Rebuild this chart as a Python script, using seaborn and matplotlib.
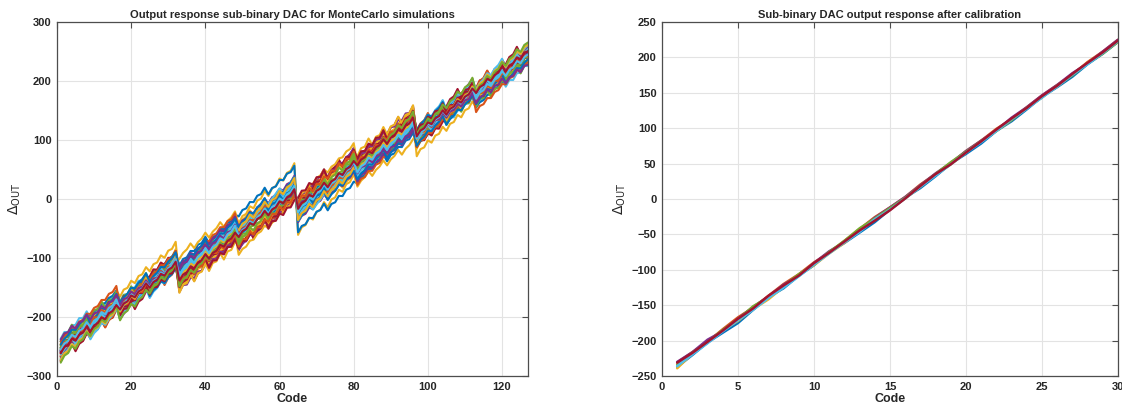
import numpy as np
import pandas as pd
import seaborn as sns
import matplotlib.pyplot as plt

# MATLAB default line colours
matlab_colors = ['#0072BD', '#D95319', '#EDB120', '#7E2F8E', '#77AC30', '#4DBEEE', '#A2142F']

# Monte Carlo runs: bit weights (LSB -> MSB) of the 7-bit sub-binary DAC
mc_weights = [
    [11.4, 13.0, 19.8, 35.8, 72.5, 130.7, 224.1],
    [10.3, 15.6, 23.2, 42.0, 64.1, 113.0, 247.9],
    [13.0, 16.5, 26.0, 47.0, 85.0, 146.0, 212.0],
    [8.8, 16.2, 22.4, 43.5, 61.2, 118.2, 259.0],
    [12.3, 14.6, 25.0, 32.5, 75.5, 107.9, 238.0],
    [9.7, 11.8, 20.2, 40.3, 57.7, 134.8, 227.9],
    [12.6, 17.2, 16.4, 46.3, 71.4, 119.4, 265.3],
    [10.8, 13.6, 24.2, 37.3, 83.0, 147.0, 203.0],
    [13.5, 14.2, 21.6, 30.2, 67.4, 102.9, 243.2],
    [12.0, 15.0, 23.0, 43.0, 82.0, 110.0, 210.0],
    [11.9, 16.6, 27.0, 36.5, 54.7, 116.1, 252.4],
    [10.5, 15.2, 20.8, 48.3, 76.8, 136.7, 232.2],
    [11.5, 11.4, 23.6, 33.5, 63.3, 111.5, 218.9],
    [13.9, 15.8, 19.2, 38.8, 80.1, 132.2, 249.8],
    [8.5, 12.2, 22.6, 42.5, 66.3, 122.1, 208.3],
    [12.4, 17.6, 17.4, 31.7, 72.0, 142.0, 240.5],
    [9.9, 14.0, 25.8, 44.8, 59.8, 107.0, 261.5],
    [11.2, 13.2, 21.0, 37.8, 79.3, 125.4, 230.2],
    [13.2, 14.8, 16.8, 39.5, 65.0, 117.0, 215.6],
    [10.6, 16.8, 24.6, 35.0, 70.1, 133.6, 254.7],
    [12.1, 11.6, 19.6, 45.5, 74.7, 114.2, 225.4],
    [9.6, 15.4, 22.0, 31.0, 62.0, 129.5, 245.3],
    [12.8, 13.8, 26.4, 41.5, 84.1, 121.1, 236.0],
    [10.1, 16.0, 18.2, 36.0, 56.0, 144.2, 210.6],
    [11.7, 12.6, 23.0, 44.0, 73.3, 109.8, 260.3],
    [13.3, 14.4, 20.4, 33.0, 68.2, 126.6, 220.9],
    [9.2, 17.0, 21.2, 38.3, 77.6, 137.9, 241.9],
    [11.0, 12.0, 27.6, 41.3, 63.6, 114.9, 251.3],
    [12.6, 15.0, 17.8, 29.5, 72.8, 132.9, 231.1],
    [10.3, 13.4, 23.8, 47.0, 59.0, 123.3, 206.8],
    [13.7, 16.4, 19.4, 37.0, 81.4, 105.8, 255.8],
    [10.8, 14.2, 22.2, 39.0, 69.3, 140.6, 217.6],
    [11.4, 11.2, 25.4, 34.5, 61.4, 120.2, 239.4],
    [9.0, 17.4, 19.0, 43.0, 76.3, 135.8, 226.4],
    [12.3, 13.0, 22.8, 32.7, 66.8, 112.0, 263.2],
    [9.7, 15.8, 24.8, 35.5, 70.6, 127.4, 209.5],
    [13.2, 12.4, 20.0, 42.3, 65.8, 109.1, 248.4],
    [11.5, 15.6, 21.8, 40.0, 82.2, 137.4, 237.4],
    [10.5, 12.8, 18.8, 33.7, 58.2, 119.0, 223.4],
    [11.9, 16.2, 23.4, 45.3, 71.7, 129.0, 257.0],
    [10.6, 14.6, 21.6, 38.6, 67.4, 125.1, 232.9],
    [9.9, 13.8, 20.6, 36.7, 73.6, 122.8, 244.1],
]
codes = np.arange(0, 127)

# Calibrated output, one series per run (code 1..30)
cal_codes = list(range(1, 31))
cal_runs = [
    [-237.0, -220.3, -202.6, -188.8, -175.1, -156.4, -138.7, -126.0, -108.2, -93.5, -74.8, -62.1, -47.4, -32.6, -14.9,
     1.8, 15.5, 32.2, 50.0, 63.7, 78.4, 96.1, 109.8, 126.6, 144.3, 158.0, 172.7, 190.4, 205.2, 221.9],
    [-231.0, -216.3, -201.6, -183.8, -167.1, -153.4, -136.7, -120.0, -106.2, -89.5, -75.8, -59.1, -42.4, -25.6, -11.9,
     2.8, 20.5, 35.2, 50.0, 67.7, 82.4, 99.1, 112.8, 129.6, 146.3, 161.0, 175.7, 193.4, 208.2, 224.9],
    [-239.0, -218.3, -200.6, -185.8, -172.1, -155.4, -141.7, -124.0, -107.2, -93.5, -76.8, -62.1, -44.4, -29.6, -13.9,
     0.8, 17.5, 34.2, 49.0, 65.7, 82.4, 96.1, 111.8, 128.6, 145.3, 159.0, 175.7, 192.4, 207.2, 221.9],
    [-230.0, -216.3, -198.6, -186.8, -169.1, -152.4, -137.7, -121.0, -108.2, -90.5, -73.8, -61.1, -43.4, -26.6, -11.9,
     2.8, 19.5, 36.2, 51.0, 67.7, 82.4, 97.1, 114.8, 129.6, 146.3, 161.0, 177.7, 191.4, 208.2, 224.9],
    [-234.0, -217.3, -202.6, -184.8, -170.1, -151.4, -138.7, -123.0, -106.2, -92.5, -74.8, -59.1, -41.4, -27.6, -12.9,
     1.8, 18.5, 35.2, 52.0, 66.7, 81.4, 96.1, 111.8, 128.6, 143.3, 160.0, 174.7, 191.4, 205.2, 221.9],
    [-236.0, -219.3, -203.6, -186.8, -171.1, -156.4, -139.7, -125.0, -109.2, -92.5, -76.8, -61.1, -46.4, -28.6, -14.9,
     0.8, 17.5, 33.2, 49.0, 65.7, 80.4, 96.1, 112.8, 127.6, 143.3, 159.0, 175.7, 190.4, 206.2, 222.9],
    [-231.0, -217.3, -201.6, -185.8, -169.1, -154.4, -136.7, -122.0, -108.2, -90.5, -75.8, -60.1, -44.4, -30.6, -15.9,
     0.8, 18.5, 35.2, 49.0, 65.7, 81.4, 98.1, 113.8, 128.6, 145.3, 160.0, 176.7, 192.4, 207.2, 223.9],
]

# Build long-form tables
rows = []
for run, w in enumerate(mc_weights):
    w = np.array(w)
    for c in codes:
        bits = (c >> np.arange(7)) & 1
        rows.append((run, c + 1, float(bits @ w - w.sum() / 2)))
mc_df = pd.DataFrame(rows, columns=['run', 'Code', 'out'])

cal_rows = []
for run, vals in enumerate(cal_runs):
    for c, v in zip(cal_codes, vals):
        cal_rows.append((run, c, v))
cal_df = pd.DataFrame(cal_rows, columns=['run', 'Code', 'out'])

sns.set_style('white')
plt.rcParams['font.family'] = ['Liberation Sans', 'DejaVu Sans']

fig = plt.figure(figsize=(11.22, 4.11), dpi=100)
ax1 = fig.add_axes([0.0508, 0.085, 0.4198, 0.8615])
ax2 = fig.add_axes([0.590, 0.085, 0.4064, 0.8615])

mc_palette = [matlab_colors[i % 7] for i in range(len(mc_weights))]
sns.lineplot(data=mc_df, x='Code', y='out', hue='run', palette=mc_palette, estimator=None,
             legend=False, linewidth=1.5, ax=ax1)

cal_palette = [matlab_colors[i % 7] for i in range(len(cal_runs))]
sns.lineplot(data=cal_df, x='Code', y='out', hue='run', palette=cal_palette, estimator=None,
             legend=False, linewidth=1.8, ax=ax2)

ax1.set_xlim(0, 127)
ax1.set_ylim(-300, 300)
ax1.set_xticks([0, 20, 40, 60, 80, 100, 120])
ax1.set_yticks([-300, -200, -100, 0, 100, 200, 300])
ax1.set_title('Output response sub-binary DAC for MonteCarlo simulations', fontsize=8, fontweight='bold', pad=3)

ax2.set_xlim(0, 30)
ax2.set_ylim(-250, 250)
ax2.set_xticks([0, 5, 10, 15, 20, 25, 30])
ax2.set_yticks(list(range(-250, 251, 50)))
ax2.set_title('Sub-binary DAC output response after calibration', fontsize=8, fontweight='bold', pad=3)

for ax in (ax1, ax2):
    ax.grid(True, color='#e3e3e3', linewidth=0.8)
    ax.set_axisbelow(True)
    for s in ax.spines.values():
        s.set_color('#4d4d4d')
        s.set_linewidth(0.9)
    ax.tick_params(direction='in', length=4, width=0.8, colors='#4d4d4d', labelcolor='#262626',
                   labelsize=8, top=True, right=True, pad=4)
    for lab in ax.get_xticklabels() + ax.get_yticklabels():
        lab.set_fontweight('bold')
    ax.set_xlabel('Code', fontsize=9, fontweight='bold', color='#262626', labelpad=1)
    ax.set_ylabel(r'$\Delta_{\mathrm{OUT}}$', fontsize=10, color='#262626', labelpad=2)

fig.savefig('out.png', dpi=100)
